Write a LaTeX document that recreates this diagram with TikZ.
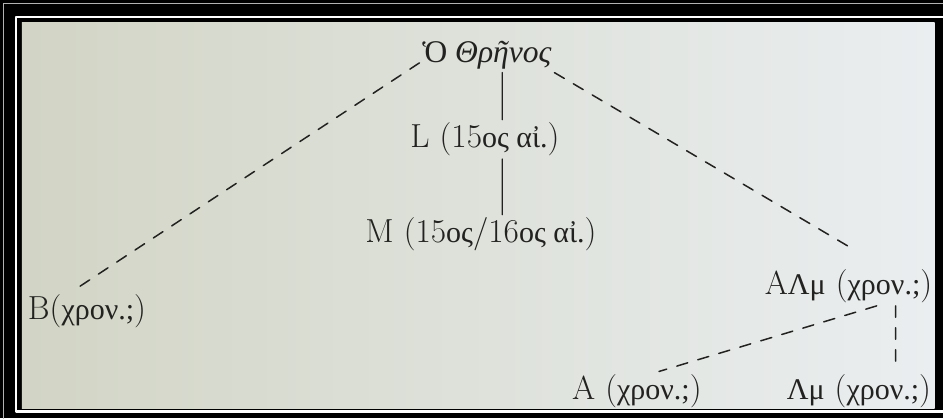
\documentclass[tikz,border=0pt]{standalone}
\usepackage{fontspec}
\newfontfamily\gr[Scale=0.9]{Liberation Serif}
\definecolor{ink}{RGB}{34,34,32}
\definecolor{pageL}{RGB}{210,213,197}
\definecolor{pageR}{RGB}{234,238,240}

\begin{document}
\begin{tikzpicture}[x=0.02cm,y=-0.02cm,line cap=round,line join=round,
  every node/.style={inner sep=1.5pt,text=ink,font=\fontsize{19}{22}\selectfont},
  kl/.style={draw=ink,line width=0.75pt},
  dl/.style={draw=ink,line width=0.85pt,dash pattern=on 6.5pt off 6pt}]
  % Rahmen
  \fill[black] (0,0) rectangle (944,419);
  \draw[gray!60,line width=0.5pt] (3,419) -- (3,3) -- (944,3);
  \draw[white,line width=1.6pt] (944,17) -- (16,17) -- (16,412) -- (944,412);
  \shade[left color=pageL,right color=pageR] (22,23) rectangle (936,409);
  % Handschriften
  \node[anchor=base west] (top) at (420,63) {{\gr\fontsize{20}{22}\selectfont Ὁ \itshape Θρῆνος}};
  \node[anchor=base west] (l) at (408,148) {L (15{\gr ος αἰ.})};
  \node[anchor=base west] (m) at (363,243) {M (15{\gr ος}/16{\gr ος αἰ.})};
  \node[anchor=base west] (b) at (25,320) {B({\gr χρον.;})};
  \node[anchor=base west] (alm) at (763,295) {A{\gr Λμ} ({\gr χρον.;})};
  \node[anchor=base west] (a) at (570,400) {A ({\gr χρον.;})};
  \node[anchor=base west] (lm) at (785,400) {{\gr Λμ} ({\gr χρον.;})};
  % Linien
  \draw[kl] ([xshift=1.66cm]top.south west) -- ([xshift=1.9cm]l.north west);
  \draw[kl] ([xshift=1.9cm]l.south west) -- ([xshift=2.8cm]m.north west);
  \draw[dl] (top.base west) -- ([xshift=0.94cm]b.north west);
  \draw[dl,shorten >=0.64cm] (top.south east) -- ([xshift=2.42cm]alm.north west);
  \draw[dl] ([xshift=2.3cm]alm.south west) -- ([xshift=1.8cm]a.north west);
  \draw[dl,shorten >=0.2cm] ([xshift=2.68cm]alm.south west) -- ([xshift=2.24cm]lm.north west);
\end{tikzpicture}
\end{document}
